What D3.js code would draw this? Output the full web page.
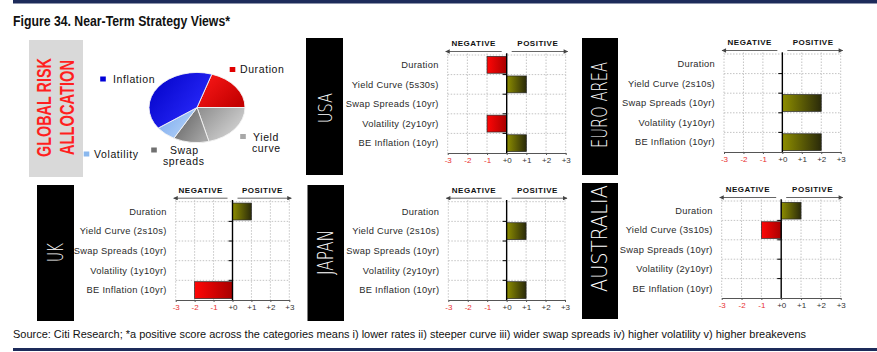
<!DOCTYPE html>
<html>
<head>
<meta charset="utf-8">
<script src="https://cdn.jsdelivr.net/npm/d3@7"></script>
<style>
  body { margin: 0; background: #fff; }
  svg { display: block; }
</style>
</head>
<body>
<svg id="chart" width="877" height="352"></svg>
<script>
// ---- data ----
const scoreTicks = [-3, -2, -1, 0, 1, 2, 3];

const usaCategories = ['Duration', 'Yield Curve (5s30s)', 'Swap Spreads (10yr)', 'Volatility (2y10yr)', 'BE Inflation (10yr)'];
const usaScores = [-1, 1, 0, -1, 1];

const euroCategories = ['Duration', 'Yield Curve (2s10s)', 'Swap Spreads (10yr)', 'Volatility (1y10yr)', 'BE Inflation (10yr)'];
const euroScores = [0, 0, 2, 0, 2];

const ukCategories = ['Duration', 'Yield Curve (2s10s)', 'Swap Spreads (10yr)', 'Volatility (1y10yr)', 'BE Inflation (10yr)'];
const ukScores = [1, 0, 0, 0, -2];

const japanCategories = ['Duration', 'Yield Curve (2s10s)', 'Swap Spreads (10yr)', 'Volatility (2y10yr)', 'BE Inflation (10yr)'];
const japanScores = [0, 1, 0, 0, 1];

const australiaCategories = ['Duration', 'Yield Curve (3s10s)', 'Swap Spreads (10yr)', 'Volatility (2y10yr)', 'BE Inflation (10yr)'];
const australiaScores = [1, -1, 0, 0, 0];

const pieLabels = ['Duration', 'Yield curve', 'Swap spreads', 'Volatility', 'Inflation'];
const pieShares = [20, 21, 12, 7, 40];

// ---- styles / layout ----
const narrow = "'Liberation Sans Narrow', 'Arial Narrow', 'Liberation Sans', Arial, sans-serif";
const sans = "'Liberation Sans', Arial, sans-serif";
const thin = "'DejaVu Sans', 'Liberation Sans', sans-serif";

const pieColors = [
  ['#ff1a1a', '#c40000'],
  ['#8c8c8c', '#d6d6d6'],
  ['#5c5c5c', '#a4a4a4'],
  ['#76a6ec', '#b4d2f8'],
  ['#0000c4', '#2c2cff'],
];
const pieMarkers = ['#e00000', '#a8a8a8', '#707070', '#8ab8ee', '#0000d8'];

// legend: marker position + text lines
const pieLegend = [
  { mx: 232.5, my: 69.5, lines: [{ x: 240, y: 73 }] },
  { mx: 243, my: 136.5, lines: [{ x: 253, y: 140.5 }, { x: 252, y: 151.5 }], words: ['Yield', 'curve'] },
  { mx: 154, my: 150, lines: [{ x: 170, y: 154 }, { x: 163, y: 165 }], words: ['Swap', 'spreads'] },
  { mx: 86.5, my: 154, lines: [{ x: 94, y: 157.5 }] },
  { mx: 103, my: 79, lines: [{ x: 113, y: 82.5 }] },
];

const panels = [
  { name: 'USA', categories: usaCategories, scores: usaScores,
    box: { x: 306, y: 38, w: 37, h: 137 }, label: { cy: 108, size: 20, length: 30 },
    plot: { left: 447.7, right: 565.7, top: 55, bottom: 153 } },
  { name: 'EURO AREA', categories: euroCategories, scores: euroScores,
    box: { x: 582, y: 38, w: 36, h: 137 }, label: { cy: 105, size: 22, length: 86 },
    plot: { left: 724, right: 840.7, top: 54, bottom: 152 } },
  { name: 'UK', categories: ukCategories, scores: ukScores,
    box: { x: 37, y: 185, w: 37, h: 136 }, label: { cy: 252.5, size: 21, length: 19 },
    plot: { left: 175.7, right: 289.3, top: 201.7, bottom: 300 } },
  { name: 'JAPAN', categories: japanCategories, scores: japanScores,
    box: { x: 307.5, y: 185, w: 36.5, h: 136 }, label: { cy: 252.5, size: 21, length: 45 },
    plot: { left: 448.3, right: 565, top: 201.7, bottom: 300 } },
  { name: 'AUSTRALIA', categories: australiaCategories, scores: australiaScores,
    box: { x: 582, y: 183, w: 36, h: 136 }, label: { cy: 238.5, size: 22, length: 107 },
    plot: { left: 721.7, right: 840.7, top: 201, bottom: 298 } },
];

const svg = d3.select('#chart');
const defs = svg.append('defs');

const addGradient = (id, from, to, x2 = '100%', y2 = '0%') => {
  const grad = defs.append('linearGradient').attr('id', id)
    .attr('x1', '0%').attr('y1', '0%').attr('x2', x2).attr('y2', y2);
  grad.append('stop').attr('offset', '0%').attr('stop-color', from);
  grad.append('stop').attr('offset', '100%').attr('stop-color', to);
};

addGradient('gradNeg', '#ff0606', '#a80000');
addGradient('gradPos', '#8e8e00', '#2a2a0a');
pieColors.forEach((c, i) => addGradient('pie' + i, c[0], c[1], '100%', '70%'));

defs.append('marker').attr('id', 'arrow')
  .attr('viewBox', '0 0 10 10').attr('refX', 9).attr('refY', 5)
  .attr('markerWidth', 6).attr('markerHeight', 5).attr('orient', 'auto')
  .append('path').attr('d', 'M0,0L10,5L0,10Z').attr('fill', '#444');

svg.append('rect').attr('width', 877).attr('height', 352).attr('fill', '#fff');

// rules + title + source
svg.append('rect').attr('x', 13).attr('y', 0).attr('width', 864).attr('height', 3.5).attr('fill', '#1d2b5a');
svg.append('rect').attr('x', 13).attr('y', 348).attr('width', 864).attr('height', 3).attr('fill', '#1d2b5a');

svg.append('text')
  .attr('x', 13).attr('y', 26)
  .attr('font-family', narrow).attr('font-weight', 'bold').attr('font-size', 14)
  .attr('textLength', 217).attr('lengthAdjust', 'spacingAndGlyphs')
  .attr('fill', '#111')
  .text('Figure 34. Near-Term Strategy Views*');

svg.append('text')
  .attr('x', 13).attr('y', 337.5)
  .attr('font-family', narrow).attr('font-size', 10.5)
  .attr('textLength', 793).attr('lengthAdjust', 'spacingAndGlyphs')
  .attr('fill', '#111')
  .text('Source: Citi Research; *a positive score across the categories means i) lower rates ii) steeper curve iii) wider swap spreads iv) higher volatility v) higher breakevens');

// ---- global risk allocation ----
const drawAllocation = () => {
  const g = svg.append('g');
  g.append('rect').attr('x', 29).attr('y', 40).attr('width', 54).attr('height', 137).attr('fill', '#d9d9d9');

  [['GLOBAL RISK', 51, 99], ['ALLOCATION', 74, 95]].forEach(([t, bx, len]) => {
    g.append('text')
      .attr('transform', `translate(${bx},107.5) rotate(-90)`)
      .attr('text-anchor', 'middle')
      .attr('font-family', narrow).attr('font-weight', 'bold').attr('font-size', 20)
      .attr('textLength', len).attr('lengthAdjust', 'spacingAndGlyphs')
      .attr('fill', '#ff1f1f')
      .text(t);
  });

  const pie = d3.pie().sort(null).startAngle(18 * Math.PI / 180).endAngle(378 * Math.PI / 180);
  const arc = d3.arc().innerRadius(0).outerRadius(48);

  g.append('g')
    .attr('transform', 'translate(197,107.5) scale(1,0.73)')
    .selectAll('path')
    .data(pie(pieShares))
    .join('path')
    .attr('d', arc)
    .attr('fill', (d, i) => `url(#pie${i})`)
    .attr('stroke', '#f4f4f4')
    .attr('stroke-width', 0.9)
    .attr('vector-effect', 'non-scaling-stroke');

  pieLegend.forEach((l, i) => {
    g.append('rect')
      .attr('x', l.mx - 2.8).attr('y', l.my - 2.5).attr('width', 5.6).attr('height', 5)
      .attr('fill', pieMarkers[i]);
    const words = l.words || [pieLabels[i]];
    l.lines.forEach((p, j) => {
      g.append('text')
        .attr('x', p.x).attr('y', p.y)
        .attr('font-family', sans).attr('font-size', 10.5).attr('letter-spacing', 0.6)
        .attr('fill', '#111')
        .text(words[j]);
    });
  });
};

// ---- country panels ----
const drawPanel = (p) => {
  const g = svg.append('g');

  g.append('rect')
    .attr('x', p.box.x).attr('y', p.box.y).attr('width', p.box.w).attr('height', p.box.h)
    .attr('fill', '#000');

  g.append('text')
    .attr('transform', `translate(${p.box.x + p.box.w / 2 + 7},${p.label.cy}) rotate(-90)`)
    .attr('text-anchor', 'middle')
    .attr('font-family', thin).attr('font-weight', 200).attr('font-size', p.label.size)
    .attr('textLength', p.label.length).attr('lengthAdjust', 'spacingAndGlyphs')
    .attr('fill', '#fff')
    .text(p.name);

  const x = d3.scaleLinear().domain([-3, 3]).range([p.plot.left, p.plot.right]);
  const y = d3.scaleBand().domain(p.categories).range([p.plot.top, p.plot.bottom])
    .paddingInner(0.14).paddingOuter(0.07);
  const rows = d3.scaleLinear().domain([0, p.categories.length]).range([p.plot.top, p.plot.bottom]);

  // grid
  g.append('g').selectAll('line')
    .data(scoreTicks.filter(t => t !== 0))
    .join('line')
    .attr('x1', d => x(d)).attr('x2', d => x(d))
    .attr('y1', p.plot.top - 1.5).attr('y2', p.plot.bottom)
    .attr('stroke', '#c4c4c4').attr('stroke-dasharray', '1.5,1.5');

  g.append('g').selectAll('line')
    .data(d3.range(0, p.categories.length))
    .join('line')
    .attr('x1', x(-3)).attr('x2', x(3))
    .attr('y1', d => rows(d)).attr('y2', d => rows(d))
    .attr('stroke', '#c4c4c4').attr('stroke-dasharray', '1.5,1.5');

  // axis
  const axis = d3.axisBottom(x)
    .tickValues(scoreTicks)
    .tickFormat(d => (d < 0 ? '-' + Math.abs(d) : '+' + d))
    .tickSize(2).tickSizeOuter(0).tickPadding(2);

  const ax = g.append('g')
    .attr('transform', `translate(0,${p.plot.bottom})`)
    .call(axis);
  ax.select('.domain').attr('stroke', '#555');
  ax.selectAll('.tick line').attr('stroke', '#555');
  ax.selectAll('.tick text')
    .attr('font-family', sans).attr('font-size', 8)
    .attr('fill', d => (d < 0 ? '#e83030' : '#333'));

  // category labels
  g.append('g').selectAll('text')
    .data(p.categories)
    .join('text')
    .attr('x', p.plot.left - 9)
    .attr('y', d => y(d) + y.bandwidth() / 2)
    .attr('dy', '0.35em')
    .attr('text-anchor', 'end')
    .attr('font-family', sans).attr('font-size', 9.3).attr('letter-spacing', 0.3)
    .attr('fill', '#2a2a2a')
    .text(d => d);

  // bars
  const data = p.categories.map((c, i) => ({ c, v: p.scores[i] })).filter(d => d.v !== 0);
  g.append('g').selectAll('rect')
    .data(data)
    .join('rect')
    .attr('x', d => x(Math.min(0, d.v)))
    .attr('y', d => y(d.c))
    .attr('width', d => Math.abs(x(d.v) - x(0)))
    .attr('height', y.bandwidth())
    .attr('fill', d => (d.v < 0 ? 'url(#gradNeg)' : 'url(#gradPos)'))
    .attr('stroke', '#2a2a2a').attr('stroke-width', 0.7);

  // zero line + small ticks
  g.append('line')
    .attr('x1', x(0)).attr('x2', x(0))
    .attr('y1', p.plot.top - 1.7).attr('y2', p.plot.bottom)
    .attr('stroke', '#000').attr('stroke-width', 1.4);

  g.append('g').selectAll('line')
    .data(d3.range(1, p.categories.length))
    .join('line')
    .attr('x1', x(0) - 4).attr('x2', x(0))
    .attr('y1', d => rows(d)).attr('y2', d => rows(d))
    .attr('stroke', '#000');

  // header
  const hy = p.plot.top - 3.5;
  [[x(0) - 5, x(-3) - 2], [x(0) + 5, x(3) + 2]].forEach(([a, b]) => {
    g.append('line')
      .attr('x1', a).attr('x2', b).attr('y1', hy).attr('y2', hy)
      .attr('stroke', '#555').attr('stroke-width', 0.9)
      .attr('marker-end', 'url(#arrow)');
  });

  [['NEGATIVE', -1.68], ['POSITIVE', 1.58]].forEach(([t, v]) => {
    g.append('text')
      .attr('x', x(v)).attr('y', p.plot.top - 9)
      .attr('text-anchor', 'middle')
      .attr('font-family', sans).attr('font-weight', 'bold').attr('font-size', 8)
      .attr('letter-spacing', 0.5)
      .attr('fill', '#111')
      .text(t);
  });
};

drawAllocation();
panels.forEach(drawPanel);
</script>
</body>
</html>
